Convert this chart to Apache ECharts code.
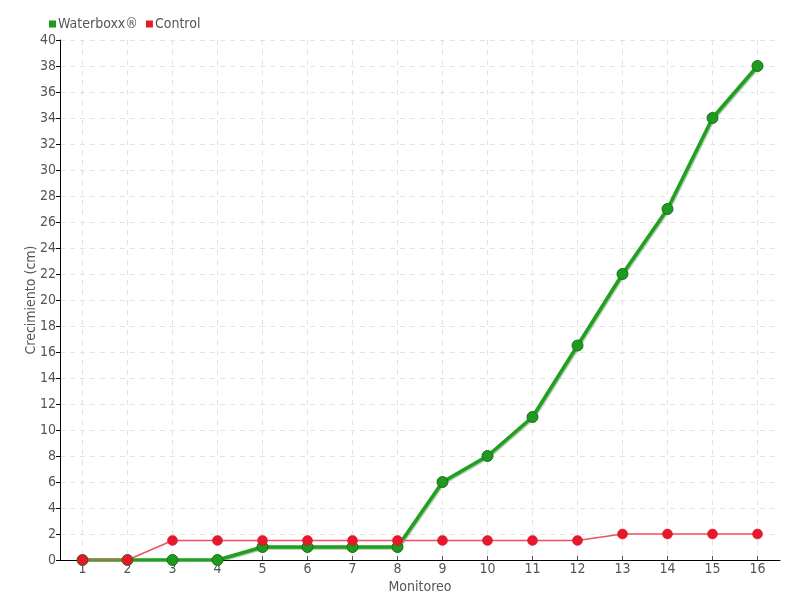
<!DOCTYPE html>
<html>
<head>
<meta charset="utf-8">
<script src="https://cdn.jsdelivr.net/npm/echarts@6/dist/echarts.min.js"></script>
<style>html,body{margin:0;padding:0;background:#fff}#c{width:800px;height:600px}</style>
</head>
<body>
<div id="c"></div>
<script>
const categories = ['1','2','3','4','5','6','7','8','9','10','11','12','13','14','15','16'];
const waterboxx = [0,0,0,0,1,1,1,1,6,8,11,16.5,22,27,34,38];
const control = [0,0,1.5,1.5,1.5,1.5,1.5,1.5,1.5,1.5,1.5,1.5,2,2,2,2];
const yTickInterval = 2;

const FONT = "'Liberation Sans Narrow','DejaVu Sans Condensed',sans-serif";
const chart = echarts.init(document.getElementById('c'), null, {renderer:'canvas'});
chart.setOption({
  animation:false,
  backgroundColor:'#fff',
  textStyle:{fontFamily:FONT},
  legend:{
    left:44, top:12, itemGap:8,
    icon:'rect', itemWidth:7, itemHeight:7,
    itemStyle:{borderWidth:0},
    textStyle:{color:'#555', fontSize:14, fontFamily:FONT, padding:[0,0,0,-3]},
    data:['Waterboxx®','Control']
  },
  grid:{left:60, right:20, top:40, bottom:40},
  xAxis:{
    type:'category', data:categories, boundaryGap:true,
    name:'Monitoreo', nameLocation:'middle', nameGap:20, nameMoveOverlap:false,
    nameTextStyle:{color:'#555', fontSize:14, fontFamily:FONT},
    axisLine:{lineStyle:{color:'#000', width:1}},
    axisTick:{show:true, alignWithLabel:true, inside:true, length:4, lineStyle:{color:'#555'}},
    axisLabel:{color:'#555', fontSize:14, fontFamily:FONT, margin:2},
    splitLine:{show:true, alignWithLabel:true, lineStyle:{color:'#e3e3e3', type:[5,5], width:1}}
  },
  yAxis:{
    type:'value', min:0, max:40, interval:yTickInterval,
    name:'Crecimiento (cm)', nameLocation:'middle', nameGap:22, nameMoveOverlap:false,
    nameTextStyle:{color:'#555', fontSize:14, fontFamily:FONT},
    axisLine:{show:true, lineStyle:{color:'#000', width:1}},
    axisTick:{show:true, length:4, lineStyle:{color:'#000'}},
    axisLabel:{color:'#555', fontSize:14, fontFamily:FONT, margin:4},
    splitLine:{show:true, lineStyle:{color:'#e3e3e3', type:[5,5], width:1}}
  },
  series:[
    {
      name:'Waterboxx®', type:'line', data:waterboxx,
      symbol:'circle', symbolSize:11,
      itemStyle:{color:'#1e9a1e', borderColor:'#1b6f1b', borderWidth:1},
      lineStyle:{color:'#1fa01f', width:3.5, shadowColor:'rgba(0,80,0,0.35)', shadowOffsetX:1, shadowOffsetY:1, shadowBlur:1}
    },
    {
      name:'Control', type:'line', data:control,
      symbol:'circle', symbolSize:10,
      itemStyle:{color:'#e8182c', borderColor:'#d01020', borderWidth:0.5},
      lineStyle:{color:'#f0505f', width:1.5}
    }
  ]
});
</script>
</body>
</html>
